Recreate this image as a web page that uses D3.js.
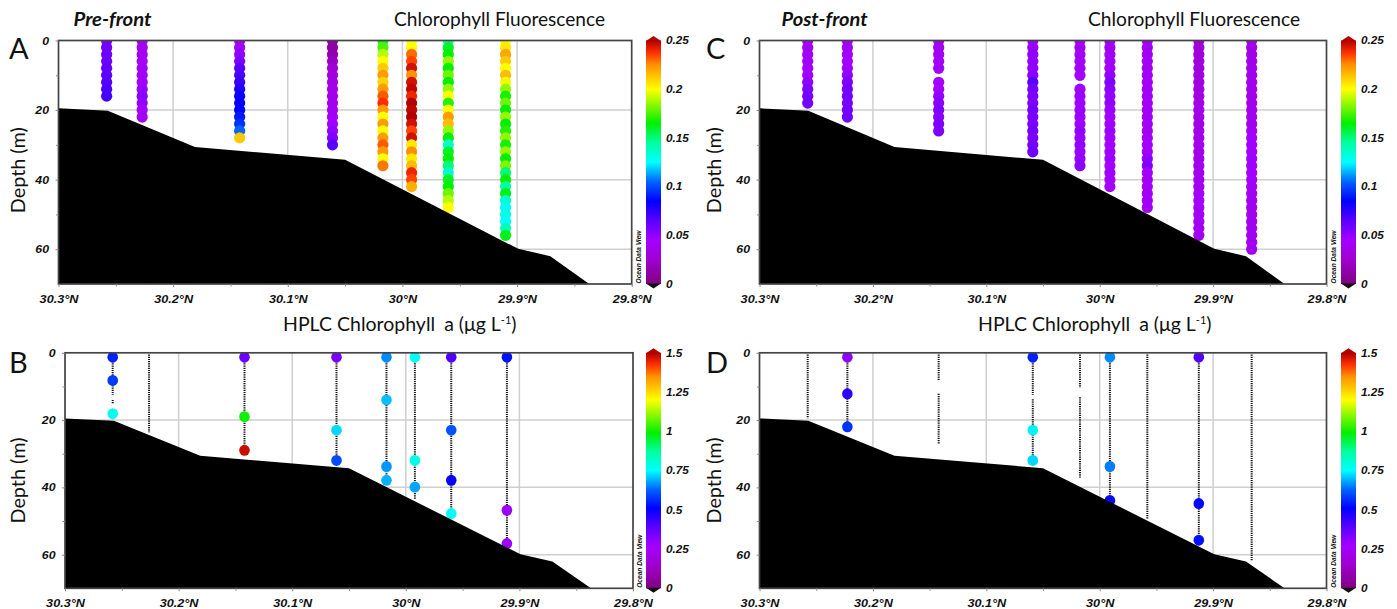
<!DOCTYPE html>
<html><head><meta charset="utf-8">
<script src="https://cdn.jsdelivr.net/npm/d3@7"></script>
<style>body{margin:0;background:#fff}svg{display:block}</style>
</head><body>
<svg id="c" width="1397" height="609"></svg>
<script>
// ---------------- DATA ----------------
const latTicks = [30.3, 30.2, 30.1, 30.0, 29.9, 29.8];
const latTickLabels = ["30.3°N", "30.2°N", "30.1°N", "30°N", "29.9°N", "29.8°N"];
const latMinorTicks = [30.25, 30.15, 30.05, 29.95, 29.85];
const depthTicks = [0, 20, 40, 60];
const depthMinorTicks = [10, 30, 50];
const depthMax = 70;

const bathyLat = [30.3, 30.257, 30.181, 30.05, 29.899, 29.871, 29.837];
const bathyDepth = [19.5, 20.2, 30.6, 34.3, 59.9, 62.0, 70];

const sampleDepths = [0,2,4,6,8,10,12,14,16,18,20,22,24,26,28,30,32,34,36,38,40,42,44,46,48,50,52,54,56,58,60,62];

// Pre-front chlorophyll fluorescence (CTD profiles)
const preFluorLat = [30.258, 30.227, 30.142, 30.061, 30.017, 29.992, 29.960, 29.910];
const preFluor = [
  [0.058,0.058,0.06,0.06,0.062,0.064,0.066,0.068,0.07],
  [0.038,0.038,0.04,0.04,0.042,0.042,0.045,0.048,0.052,0.05,0.045,0.04],
  [0.04,0.045,0.05,0.055,0.065,0.068,0.072,0.078,0.082,0.085,0.085,0.09,0.095,0.105,0.212],
  [0.012,0.012,0.015,0.02,0.028,0.03,0.032,0.035,0.035,0.038,0.04,0.042,0.045,0.05,0.055,0.065],
  [0.16,0.175,0.19,0.2,0.212,0.222,0.21,0.222,0.232,0.238,0.222,0.2,0.222,0.2,0.222,0.232,0.222,0.2,0.228],
  [0.2,0.2,0.23,0.235,0.245,0.225,0.245,0.248,0.24,0.25,0.248,0.25,0.245,0.235,0.245,0.205,0.225,0.205,0.215,0.24,0.235,0.218],
  [0.14,0.16,0.165,0.185,0.165,0.18,0.165,0.185,0.2,0.17,0.2,0.222,0.215,0.185,0.165,0.135,0.16,0.165,0.15,0.135,0.16,0.165,0.18,0.19,0.2],
  [0.2,0.205,0.22,0.212,0.2,0.215,0.198,0.185,0.168,0.18,0.165,0.185,0.165,0.17,0.185,0.168,0.185,0.165,0.182,0.15,0.165,0.145,0.162,0.135,0.128,0.13,0.125,0.14,0.162]
];

// Post-front chlorophyll fluorescence
const postFluorLat = [30.2575, 30.2225, 30.142, 30.059, 30.0174, 29.991, 29.958, 29.9126, 29.866];
const postFluor = [
  [0.042,0.042,0.042,0.044,0.044,0.046,0.05,0.055,0.058,0.058],
  [0.042,0.042,0.044,0.045,0.045,0.05,0.055,0.058,0.058,0.056,0.058,0.058],
  [0.04,0.04,0.04,0.042,0.042,null,0.044,0.045,0.05,0.052,0.055,0.052,0.055,0.055],
  [0.048,0.048,0.05,0.05,0.05,0.052,0.065,0.058,0.056,0.055,0.058,0.056,0.055,0.058,0.056,0.058,0.06],
  [0.04,0.04,0.042,0.042,0.042,0.045,null,0.046,0.048,0.046,0.048,0.048,0.046,0.05,0.048,0.05,0.048,0.05,0.052],
  [0.04,0.04,0.04,0.042,0.042,0.05,0.055,0.052,0.05,0.05,0.048,0.046,0.046,0.048,0.046,0.045,0.046,0.048,0.045,0.046,0.045,0.045],
  [0.04,0.04,0.04,0.042,0.04,0.042,0.042,0.04,0.042,0.042,0.04,0.042,0.042,0.04,0.042,0.045,0.042,0.05,0.055,0.045,0.042,0.042,0.04,0.042,0.042],
  [0.028,0.028,0.03,0.03,0.032,0.032,0.032,0.034,0.034,0.034,0.035,0.035,0.035,0.035,0.036,0.036,0.036,0.036,0.038,0.038,0.038,0.04,0.042,0.045,0.045,0.042,0.042,0.04,0.04],
  [0.035,0.035,0.035,0.036,0.036,0.036,0.038,0.036,0.036,0.038,0.038,0.038,0.038,0.04,0.045,0.045,0.045,0.046,0.046,0.045,0.045,0.042,0.04,0.04,0.038,0.038,0.038,0.038,0.04,0.038,0.038]
];

// Pre-front HPLC chlorophyll a (bottle samples)
const preHplcLat = [30.258, 30.226, 30.142, 30.061, 30.017, 29.992, 29.960, 29.911];
const preHplcDepth = [[1.3,8.2,18.1],[],[1.3,19,29],[1.3,23,32],[1.3,14,33.8,37.9],[1.3,32,39.9],[1.3,23,37.9,47.8],[1.3,46.8,56.7]];
const preHplcValue = [[0.55,0.58,0.77],[],[0.36,1.0,1.48],[0.34,0.72,0.6],[0.66,0.7,0.67,0.69],[0.76,0.78,0.68],[0.4,0.61,0.5,0.76],[0.53,0.28,0.28]];
const preHplcCast = [[[0.5,12.5],[14,15]],[[0.5,23.6]],[[0.5,29]],[[0.5,32]],[[0.5,38]],[[0.5,43.5]],[[0.5,48]],[[0.5,57]]];

// Post-front HPLC chlorophyll a
const postHplcLat = [30.2575, 30.2225, 30.142, 30.059, 30.0174, 29.991, 29.958, 29.9126, 29.866];
const postHplcDepth = [[],[1.3,12.2,22],[],[1.3,23,32],[],[1.3,33.8,43.9],[],[1.3,44.8,55.7],[]];
const postHplcValue = [[],[0.3,0.45,0.57],[],[0.55,0.74,0.72],[],[0.66,0.65,0.52],[],[0.4,0.52,0.53],[]];
const postHplcCast = [[[0.5,19.5]],[[0.5,22]],[[0.5,8.2],[12.2,27.2]],[[0.5,12.5],[13.8,32]],[[0.5,10.4],[13.2,37.1]],[[0.5,44]],[[0.5,49.3]],[[0.5,56]],[[0.5,61.7]]];

const fluorTicks = [0, 0.05, 0.1, 0.15, 0.2, 0.25];
const fluorTickLabels = ["0", "0.05", "0.1", "0.15", "0.2", "0.25"];
const hplcTicks = [0, 0.25, 0.5, 0.75, 1, 1.25, 1.5];
const hplcTickLabels = ["0", "0.25", "0.5", "0.75", "1", "1.25", "1.5"];

// ODV rainbow palette
const paletteStops = [0, 0.1, 0.18, 0.26, 0.34, 0.42, 0.5, 0.58, 0.66, 0.8, 0.9, 0.95, 1];
const paletteColors = ["#800080","#a000d0","#a400ff","#5a00ff","#0000ff","#0064ff","#00ffff","#00ffa0","#00f000","#ffff00","#ff9000","#ff3000","#b00000"];

// ---------------- DRAW ----------------
const svg = d3.select("#c");
const defs = svg.append("defs");
const grad = defs.append("linearGradient").attr("id", "odv")
  .attr("x1", 0).attr("y1", 1).attr("x2", 0).attr("y2", 0);
paletteStops.forEach((s, i) => grad.append("stop").attr("offset", s).attr("stop-color", paletteColors[i]));

const tickFont = "'Liberation Sans', Arial, sans-serif";
const labelFont = "Lato, 'Open Sans', sans-serif";

const panels = [
  {key:"A", x0:58.5, x1:631.7, y0:40.5, y1:284, kind:"fluor", lat:preFluorLat, vals:preFluor, vmax:0.25, ticks:fluorTicks, tlabels:fluorTickLabels, cb0:646, odvX:638.5},
  {key:"B", x0:65, x1:633, y0:352.8, y1:588.3, kind:"hplc", lat:preHplcLat, depth:preHplcDepth, vals:preHplcValue, casts:preHplcCast, vmax:1.5, ticks:hplcTicks, tlabels:hplcTickLabels, cb0:646, odvX:639.5},
  {key:"C", x0:759.5, x1:1326.5, y0:40.5, y1:284, kind:"fluor", lat:postFluorLat, vals:postFluor, vmax:0.25, ticks:fluorTicks, tlabels:fluorTickLabels, cb0:1341, odvX:1333.5},
  {key:"D", x0:759.5, x1:1326.5, y0:352.8, y1:588.3, kind:"hplc", lat:postHplcLat, depth:postHplcDepth, vals:postHplcValue, casts:postHplcCast, vmax:1.5, ticks:hplcTicks, tlabels:hplcTickLabels, cb0:1341, odvX:1333.5}
];

panels.forEach(p => {
  const x = d3.scaleLinear().domain([latTicks[0], latTicks[latTicks.length-1]]).range([p.x0, p.x1]);
  const y = d3.scaleLinear().domain([0, depthMax]).range([p.y0, p.y1]);
  const color = d3.scaleLinear().domain(paletteStops.map(s => s * p.vmax)).range(paletteColors).clamp(true);
  const g = svg.append("g");

  defs.append("clipPath").attr("id", "clip" + p.key).append("rect")
    .attr("x", p.x0).attr("y", p.y0).attr("width", p.x1 - p.x0).attr("height", p.y1 - p.y0);

  // grid
  g.append("g").selectAll("line").data(latTicks.slice(1, -1)).join("line")
    .attr("x1", d => x(d)).attr("x2", d => x(d)).attr("y1", p.y0).attr("y2", p.y1)
    .attr("stroke", "#cfcfcf").attr("stroke-width", 1.5);
  g.append("g").selectAll("line").data(depthTicks.slice(1)).join("line")
    .attr("y1", d => y(d)).attr("y2", d => y(d)).attr("x1", p.x0).attr("x2", p.x1)
    .attr("stroke", "#cfcfcf").attr("stroke-width", 1.5);

  const plot = g.append("g").attr("clip-path", `url(#clip${p.key})`);

  if (p.kind === "fluor") {
    const pts = [];
    p.vals.forEach((arr, i) => arr.forEach((v, j) => {
      if (v !== null) pts.push({lat: p.lat[i], depth: sampleDepths[j], v});
    }));
    plot.append("g").selectAll("circle").data(pts).join("circle")
      .attr("cx", d => x(d.lat)).attr("cy", d => y(d.depth)).attr("r", 5.6)
      .attr("fill", d => color(d.v));
  } else {
    const segs = [];
    p.casts.forEach((arr, i) => arr.forEach(s => segs.push({lat: p.lat[i], a: s[0], b: s[1]})));
    plot.append("g").selectAll("line").data(segs).join("line")
      .attr("x1", d => x(d.lat)).attr("x2", d => x(d.lat))
      .attr("y1", d => y(d.a)).attr("y2", d => y(d.b))
      .attr("stroke", "#111").attr("stroke-width", 2).attr("stroke-dasharray", "1.2,1");
    const pts = [];
    p.depth.forEach((arr, i) => arr.forEach((dp, j) => pts.push({lat: p.lat[i], depth: dp, v: p.vals[i][j]})));
    plot.append("g").selectAll("ellipse").data(pts).join("ellipse")
      .attr("cx", d => x(d.lat)).attr("cy", d => y(d.depth)).attr("rx", 5.3).attr("ry", 5.5)
      .attr("fill", d => color(d.v));
  }

  // bathymetry
  const bathy = bathyLat.map((l, i) => [l, bathyDepth[i]]);
  const area = d3.area().x(d => x(d[0])).y0(y(depthMax)).y1(d => y(d[1]));
  plot.append("path").datum(bathy).attr("d", area).attr("fill", "#000");

  // frame
  g.append("rect").attr("x", p.x0).attr("y", p.y0).attr("width", p.x1 - p.x0).attr("height", p.y1 - p.y0)
    .attr("fill", "none").attr("stroke", "#444").attr("stroke-width", 1.7);

  // axes
  const xAxis = d3.axisBottom(x).tickValues(latTicks).tickFormat((d, i) => latTickLabels[i]).tickSize(3).tickPadding(8);
  const xa = g.append("g").attr("transform", `translate(0,${p.y1})`).call(xAxis);
  const xm = g.append("g").attr("transform", `translate(0,${p.y1})`).call(d3.axisBottom(x).tickValues(latMinorTicks).tickFormat("").tickSize(2.5));
  const yAxis = d3.axisLeft(y).tickValues(depthTicks).tickSize(3).tickPadding(8);
  const ya = g.append("g").attr("transform", `translate(${p.x0},0)`).call(yAxis);
  const ym = g.append("g").attr("transform", `translate(${p.x0},0)`).call(d3.axisLeft(y).tickValues(depthMinorTicks).tickFormat("").tickSize(2.5));
  [xa, xm, ya, ym].forEach(a => {
    a.select(".domain").remove();
    a.selectAll("line").attr("stroke", "#888");
  });
  [xa, ya].forEach(a => a.selectAll("text")
    .attr("font-family", tickFont).attr("font-size", 11).attr("font-weight", "bold").attr("font-style", "italic")
    .attr("fill", "#111"));
  xa.selectAll("text").attr("transform", "scale(1.15,1)").attr("x", 0);
  ya.selectAll("text").attr("transform", "scale(1.12,1)").attr("x", -8.5);

  // colorbar
  const cw = 15;
  const cy = d3.scaleLinear().domain([0, p.vmax]).range([p.y1, p.y0]);
  g.append("rect").attr("x", p.cb0).attr("y", p.y0).attr("width", cw).attr("height", p.y1 - p.y0)
    .attr("fill", "url(#odv)");
  g.append("path").attr("d", `M${p.cb0},${p.y0 + 0.5} L${p.cb0 + cw/2},${p.y0 - 4.5} L${p.cb0 + cw},${p.y0 + 0.5}Z`)
    .attr("fill", paletteColors[paletteColors.length - 1]);
  g.append("path").attr("d", `M${p.cb0},${p.y1 - 0.5} L${p.cb0 + cw/2},${p.y1 + 4.5} L${p.cb0 + cw},${p.y1 - 0.5}Z`)
    .attr("fill", "#111");
  const ca = g.append("g").attr("transform", `translate(${p.cb0 + cw},0)`)
    .call(d3.axisRight(cy).tickValues(p.ticks).tickFormat((d, i) => p.tlabels[i]).tickSize(0).tickPadding(5));
  ca.select(".domain").remove();
  ca.selectAll("text").attr("font-family", tickFont).attr("font-size", 10.5).attr("font-weight", "bold")
    .attr("font-style", "italic").attr("fill", "#111").attr("transform", "scale(1.12,1)").attr("x", 4.5);

  // Ocean Data View tag
  g.append("text").attr("transform", `translate(${p.odvX + 2.5},${(p.y1 - 27)}) rotate(-90)`)
    .attr("text-anchor", "middle").attr("font-family", tickFont).attr("font-size", 6.5)
    .attr("font-weight", "bold").attr("font-style", "italic").attr("fill", "#111")
    .attr("textLength", 53).attr("lengthAdjust", "spacingAndGlyphs").text("Ocean Data View");

  // depth label
  const midY = (p.y0 + p.y1) / 2 + (p.kind === "fluor" ? 8 : 10);
  const dx = p.key === "A" || p.key === "B" ? 25 : 721;
  g.append("text").attr("transform", `translate(${dx},${midY}) rotate(-90)`)
    .attr("text-anchor", "middle").attr("font-family", labelFont).attr("font-size", 20)
    .attr("textLength", 86).attr("lengthAdjust", "spacingAndGlyphs").attr("fill", "#111").text("Depth (m)");

  // panel letter
  g.append("text").attr("x", p.key === "A" || p.key === "B" ? 9 : 706)
    .attr("y", p.kind === "fluor" ? 59 : 372.5)
    .attr("font-family", labelFont).attr("font-size", 29).attr("fill", "#111").text(p.key);
});

// titles
function title(txt, x, len, bold) {
  svg.append("text").attr("x", x).attr("y", 26).attr("font-family", labelFont)
    .attr("font-size", 19).attr("font-weight", bold ? "bold" : "normal").attr("font-style", bold ? "italic" : "normal")
    .attr("fill", "#111").attr("textLength", len).attr("lengthAdjust", "spacingAndGlyphs").text(txt);
}
title("Pre-front", 73.5, 78, true);
title("Post-front", 781.5, 86, true);
title("Chlorophyll Fluorescence", 394, 211, false);
title("Chlorophyll Fluorescence", 1088, 212, false);

function hplcTitle(x) {
  const t = svg.append("text").attr("x", x).attr("y", 331).attr("font-family", labelFont)
    .attr("font-size", 19.5).attr("fill", "#111");
  t.append("tspan").text("HPLC Chlorophyll");
  t.append("tspan").attr("dx", 9).text("a (μg L");
  t.append("tspan").attr("dy", -7).attr("font-size", 11).text("-1");
  t.append("tspan").attr("dy", 7).text(")");
}
hplcTitle(283);
hplcTitle(978);
</script>
</body></html>
